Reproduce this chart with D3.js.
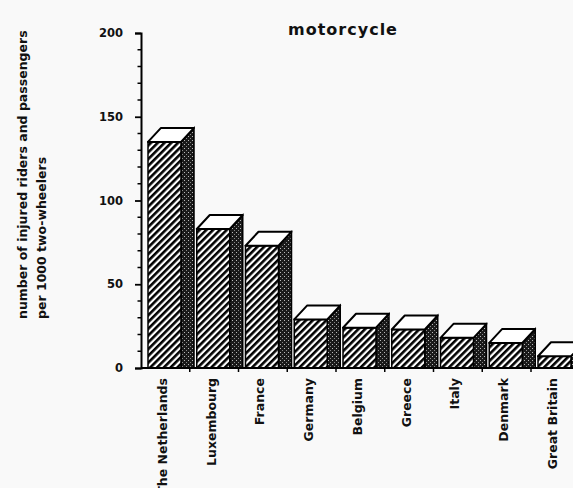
<!DOCTYPE html>
<html>
<head>
<meta charset="utf-8">
<script src="https://cdn.jsdelivr.net/npm/d3@7/dist/d3.min.js"></script>
<style>
  html, body { margin: 0; padding: 0; background: #f9f9f9; }
  svg { display: block; }
  text { font-family: "DejaVu Sans", "Liberation Sans", sans-serif; font-weight: bold; fill: #111; }
</style>
</head>
<body>
<svg id="chart" width="573" height="488"></svg>
<script>
// Injured riders and passengers per 1000 motorcycles, by country
const countries = ["The Netherlands", "Luxembourg", "France", "Germany", "Belgium",
                   "Greece", "Italy", "Denmark", "Great Britain"];
const injuries = [135, 83, 73, 29, 24, 23, 18, 15, 7];
const yTicks = [0, 50, 100, 150, 200];
const yMinorTicks = d3.range(0, 201, 10);
const title = "motorcycle";
const yLabelLines = ["number of injured riders and passengers", "per 1000 two-wheelers"];

const svg = d3.select("#chart");
const axisX = 141, baseY = 368, topY = 33;
const step = 48.75;

const y = d3.scaleLinear().domain([0, 200]).range([baseY, topY]);
const x = d3.scaleBand().domain(countries)
  .range([axisX, axisX + step * countries.length]).paddingInner(0).paddingOuter(0);

// 3D block geometry
const frontOffset = 7, frontW = 33, depthX = 13, depthY = 14;

// fill patterns: diagonal hatching for the front, dark stipple for the side
const defs = svg.append("defs");
const hatch = defs.append("pattern").attr("id", "hatch")
  .attr("patternUnits", "userSpaceOnUse").attr("width", 4.8).attr("height", 4.8)
  .attr("patternTransform", "rotate(45)");
hatch.append("rect").attr("width", 4.8).attr("height", 4.8).attr("fill", "#fff");
hatch.append("line").attr("x1", 1.3).attr("y1", 0).attr("x2", 1.3).attr("y2", 4.8)
  .attr("stroke", "#000").attr("stroke-width", 2.6);

const stipple = defs.append("pattern").attr("id", "stipple")
  .attr("patternUnits", "userSpaceOnUse").attr("width", 4).attr("height", 4);
stipple.append("rect").attr("width", 4).attr("height", 4).attr("fill", "#1a1a1a");
stipple.append("rect").attr("x", 0).attr("y", 0).attr("width", 1).attr("height", 1).attr("fill", "#bbb");
stipple.append("rect").attr("x", 2).attr("y", 2).attr("width", 1).attr("height", 1).attr("fill", "#888");

// bars, drawn left to right so each block overlaps its neighbour's side
const bars = svg.append("g").selectAll("g").data(countries).join("g");
bars.each(function (c, i) {
  const g = d3.select(this);
  const x0 = x(c) + frontOffset, x1 = x0 + frontW;
  const yv = y(injuries[i]);
  g.append("polygon")
    .attr("points", [[x1, yv], [x1 + depthX, yv - depthY], [x1 + depthX, baseY], [x1, baseY]].join(" "))
    .attr("fill", "url(#stipple)").attr("stroke", "#000").attr("stroke-width", 1.5);
  g.append("rect").attr("x", x0).attr("y", yv).attr("width", frontW).attr("height", baseY - yv)
    .attr("fill", "url(#hatch)").attr("stroke", "#000").attr("stroke-width", 1.5);
  g.append("polygon")
    .attr("points", [[x0, yv], [x0 + depthX, yv - depthY], [x1 + depthX, yv - depthY], [x1, yv]].join(" "))
    .attr("fill", "#fff").attr("stroke", "#000").attr("stroke-width", 2).attr("stroke-linejoin", "round");
});

// x axis baseline with ticks at the category boundaries
svg.append("line").attr("x1", axisX).attr("x2", 573).attr("y1", baseY).attr("y2", baseY)
  .attr("stroke", "#000").attr("stroke-width", 2);
svg.append("g").selectAll("line").data(countries).join("line")
  .attr("x1", d => x(d) + step).attr("x2", d => x(d) + step)
  .attr("y1", baseY).attr("y2", baseY + 4)
  .attr("stroke", "#000").attr("stroke-width", 1.5);

// category labels, vertical
svg.append("g").selectAll("text").data(countries).join("text")
  .attr("transform", d => `translate(${x(d) + x.bandwidth() / 2 - 3},378) rotate(-90)`)
  .attr("text-anchor", "end").attr("dy", "0.35em")
  .attr("font-size", 12.5)
  .text(d => d);

// y axis with major and minor ticks
const yAxis = d3.axisLeft(y).tickValues(yTicks).tickSize(6).tickPadding(12).tickFormat(d3.format("d"));
const yg = svg.append("g").attr("transform", `translate(${axisX},0)`).call(yAxis);
yg.select(".domain").attr("stroke", "#000").attr("stroke-width", 2);
yg.selectAll(".tick line").attr("stroke", "#000").attr("stroke-width", 1.8);
yg.selectAll(".tick text").attr("font-size", 11.5).attr("font-family", "DejaVu Sans")
  .attr("font-weight", "bold").attr("fill", "#111");
yg.append("g").selectAll("line").data(yMinorTicks.filter(v => !yTicks.includes(v))).join("line")
  .attr("x1", -3.5).attr("x2", 0).attr("y1", d => y(d)).attr("y2", d => y(d))
  .attr("stroke", "#000").attr("stroke-width", 1.5);

// title
svg.append("text").attr("x", 343).attr("y", 35).attr("text-anchor", "middle")
  .attr("font-size", 16).attr("letter-spacing", 1).text(title);

// y axis title, two vertical lines
svg.append("g").selectAll("text").data(yLabelLines).join("text")
  .attr("transform", (d, i) => `translate(${i === 0 ? 27 : 46},319) rotate(-90)`)
  .attr("text-anchor", "start").attr("font-size", 12.5)
  .text(d => d);
</script>
</body>
</html>
